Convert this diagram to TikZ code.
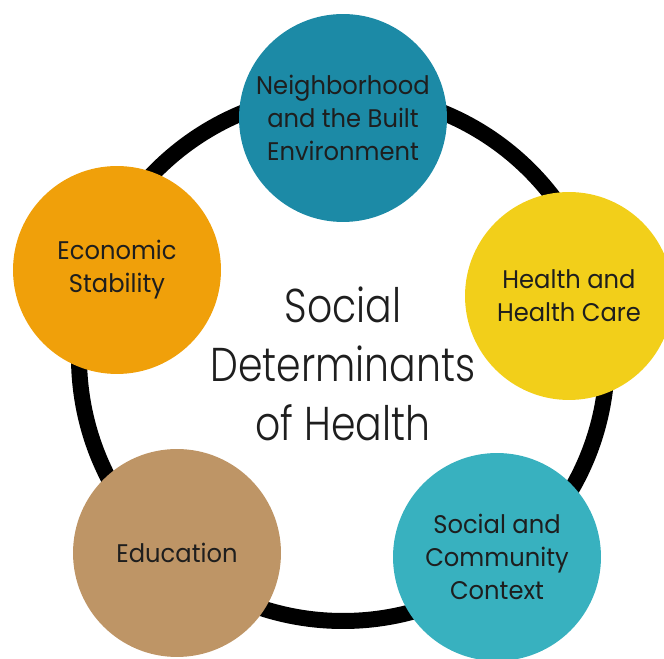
\documentclass[tikz,border=0pt]{standalone}
\usepackage{fontspec}
\setmainfont{Poppins}[FakeStretch=0.95]
\newfontfamily\titlefont{Poppins}[UprightFont=* Light,FakeStretch=0.83]
\definecolor{builtteal}{HTML}{1C8AA6}
\definecolor{econorange}{HTML}{F0A00A}
\definecolor{careyellow}{HTML}{F2CF1A}
\definecolor{commteal}{HTML}{38B1BF}
\definecolor{edutan}{HTML}{BE9566}
\definecolor{inktext}{HTML}{1E1E1E}
\begin{document}
\begin{tikzpicture}[x=0.02cm,y=0.02cm,
		factor/.style={circle,minimum size=4.16cm,inner sep=0pt,align=center,text=inktext,font=\fontsize{14.5}{18.8}\selectfont},
		title/.style={align=center,text=inktext,font=\titlefont\fontsize{27}{33.6}\selectfont}]
				\useasboundingbox (0,0) rectangle (664,659);
				%ring
				\node (hub) at (343,302) [circle,minimum size=10.56cm,inner sep=0pt]{};
				\draw[line width=0.32cm] (hub.center) circle (264);
				
				%factors
				\node (built) at (343,541) [factor,fill=builtteal]{Neighborhood\\and the Built\\Environment};
				\node (econ) at (117,389) [factor,fill=econorange]{Economic\\Stability};
				\node (care) at (569,363) [factor,fill=careyellow]{Health and\\Health Care};
				\node (comm) at (497,102) [factor,fill=commteal]{Social and\\Community\\Context};
				\node (edu) at (177,106) [factor,fill=edutan]{Education};
				
				\node (sdoh) at (343,295) [title]{Social\\Determinants\\of Health};
			\end{tikzpicture}
\end{document}
